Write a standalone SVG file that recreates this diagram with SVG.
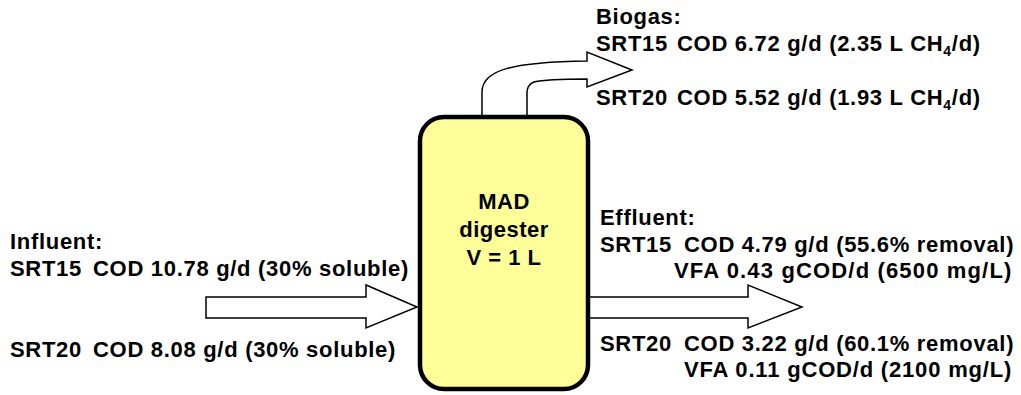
<svg xmlns="http://www.w3.org/2000/svg" width="1021" height="395" viewBox="0 0 1021 395">
  <style>
    text { font-family: "Liberation Sans", Arial, sans-serif; font-weight: bold; font-size: 22px; letter-spacing: 0.7px; fill: #000; }
    .sub { font-size: 14px; }
    .flow { fill: #fff; stroke: #000; stroke-width: 1.5; stroke-linejoin: miter; }
    .tank { fill: #ffff99; stroke: #000; stroke-width: 4.5; }
    .mid { text-anchor: middle; letter-spacing: 0.5px; }
  </style>
  <rect width="1021" height="395" fill="#fff"/>

  <!-- block arrows: influent, effluent, biogas -->
  <g id="connectors">
    <path id="influent-arrow" class="flow" d="M206,297 H366 V285 L417,307 L366,328 V318 H206 Z"/>
    <path id="effluent-arrow" class="flow" d="M586,297 H748 V285 L802,307 L748,328 V318 H586 Z"/>
    <path id="biogas-arrow" class="flow" d="M482,122 V92 C482,70 512,62 587,61 V52 L632,70 L587,87 V79 C560,79 542,80 534,82 C529,84 527,88 527,93 V122 Z"/>
  </g>

  <!-- digester vessel -->
  <g id="digester">
    <rect class="tank" x="420" y="117" width="168" height="272" rx="24" ry="24"/>
    <text class="mid" x="504" y="209">MAD</text>
    <text class="mid" x="504" y="237">digester</text>
    <text class="mid" x="504" y="265">V = 1 L</text>
  </g>

  <g id="biogas">
    <text x="596" y="24">Biogas:</text>
    <text x="596" y="51">SRT15<tspan x="677">COD 6.72 g/d (2.35 L CH</tspan><tspan class="sub" dy="5">4</tspan><tspan dy="-5">/d)</tspan></text>
    <text x="596" y="105">SRT20<tspan x="677">COD 5.52 g/d (1.93 L CH</tspan><tspan class="sub" dy="5">4</tspan><tspan dy="-5">/d)</tspan></text>
  </g>

  <g id="influent">
    <text x="10" y="249">Influent:</text>
    <text x="10" y="276">SRT15<tspan x="93">COD 10.78 g/d (30% soluble)</tspan></text>
    <text x="10" y="357">SRT20<tspan x="93">COD 8.08 g/d (30% soluble)</tspan></text>
  </g>

  <g id="effluent">
    <text x="600" y="225">Effluent:</text>
    <text x="600" y="252">SRT15<tspan x="684">COD 4.79 g/d (55.6% removal)</tspan></text>
    <text x="674" y="278" textLength="338">VFA 0.43 gCOD/d (6500 mg/L)</text>
    <text x="600" y="351">SRT20<tspan x="684">COD 3.22 g/d (60.1% removal)</tspan></text>
    <text x="684" y="377" textLength="328">VFA 0.11 gCOD/d (2100 mg/L)</text>
  </g>
</svg>
